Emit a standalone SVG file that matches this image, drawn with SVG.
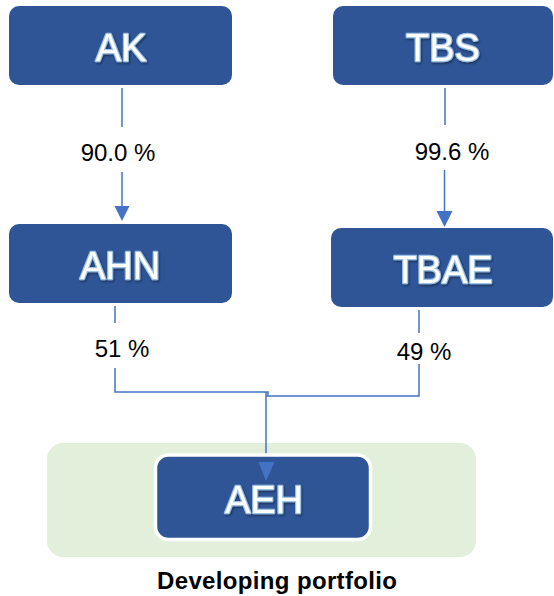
<svg xmlns="http://www.w3.org/2000/svg" width="554" height="596" viewBox="0 0 554 596">
<style>
.box{fill:#2F5597;}
.nt{font-family:"Liberation Sans",Arial,sans-serif;font-size:38px;fill:#ffffff;stroke:#9DC3E6;stroke-width:2.5;paint-order:stroke;stroke-linejoin:round;text-anchor:middle;filter:url(#sh);}
.lbl{font-family:"Liberation Sans",Arial,sans-serif;font-size:24px;fill:#000000;text-anchor:middle;}
.ln{fill:none;stroke:#4472C4;stroke-width:1.5;}
</style>
<defs>
<filter id="sh" x="-20%" y="-20%" width="140%" height="140%">
<feDropShadow dx="1" dy="1.5" stdDeviation="1" flood-color="#000000" flood-opacity="0.45"/>
</filter>
</defs>
<rect id="group-bg" x="47" y="443" width="429" height="114" rx="16" fill="#E2EFDA"/>
<g id="connectors">
<line class="ln" x1="122" y1="88" x2="122" y2="127" stroke-width="2"/>
<line class="ln" x1="122" y1="172" x2="122" y2="206" stroke-width="2"/>
<path d="M114.5,206 L129.5,206 L122,221 Z" fill="#4472C4"/>
<line class="ln" x1="445" y1="88" x2="445" y2="125"/>
<line class="ln" x1="444.5" y1="170" x2="444.5" y2="211"/>
<path d="M436.5,211 L452.5,211 L444.5,227 Z" fill="#4472C4"/>
<path class="ln" d="M115,306 L115,323 M115,368 L115,392 L268,392 L268,396"/>
<path class="ln" d="M419,310 L419,333 M419,364 L419,396 L266,396"/>
<line class="ln" x1="266" y1="392" x2="266" y2="462" stroke-width="2"/>
<text class="lbl" x="118" y="161">90.0 %</text>
<text class="lbl" x="452" y="160">99.6 %</text>
<text class="lbl" x="122" y="357">51 %</text>
<text class="lbl" x="424" y="360">49 %</text>
</g>
<g id="AK">
<rect class="box" x="9" y="6" width="223" height="79" rx="10"/>
<text class="nt" x="121" y="61">AK</text>
</g>
<g id="TBS">
<rect class="box" x="333" y="6" width="220" height="79" rx="10"/>
<text class="nt" x="443" y="61">TBS</text>
</g>
<g id="AHN">
<rect class="box" x="9" y="224" width="223" height="79" rx="10"/>
<text class="nt" x="120" y="279">AHN</text>
</g>
<g id="TBAE">
<rect class="box" x="331" y="228" width="222" height="79" rx="10"/>
<text class="nt" x="443" y="283">TBAE</text>
</g>
<g id="AEH">
<rect x="155.5" y="455" width="215" height="84.5" rx="13" fill="#2F5597" stroke="#ffffff" stroke-width="3.5"/>
<text class="nt" x="264" y="513">AEH</text>
</g>
<path id="aeh-arrowhead" d="M258.5,462 L274.5,462 L266,481 Z" fill="#4472C4"/>
<text x="277" y="589" font-family="Liberation Sans,Arial,sans-serif" font-size="24" font-weight="bold" text-anchor="middle" fill="#000000" textLength="240">Developing portfolio</text>
</svg>
